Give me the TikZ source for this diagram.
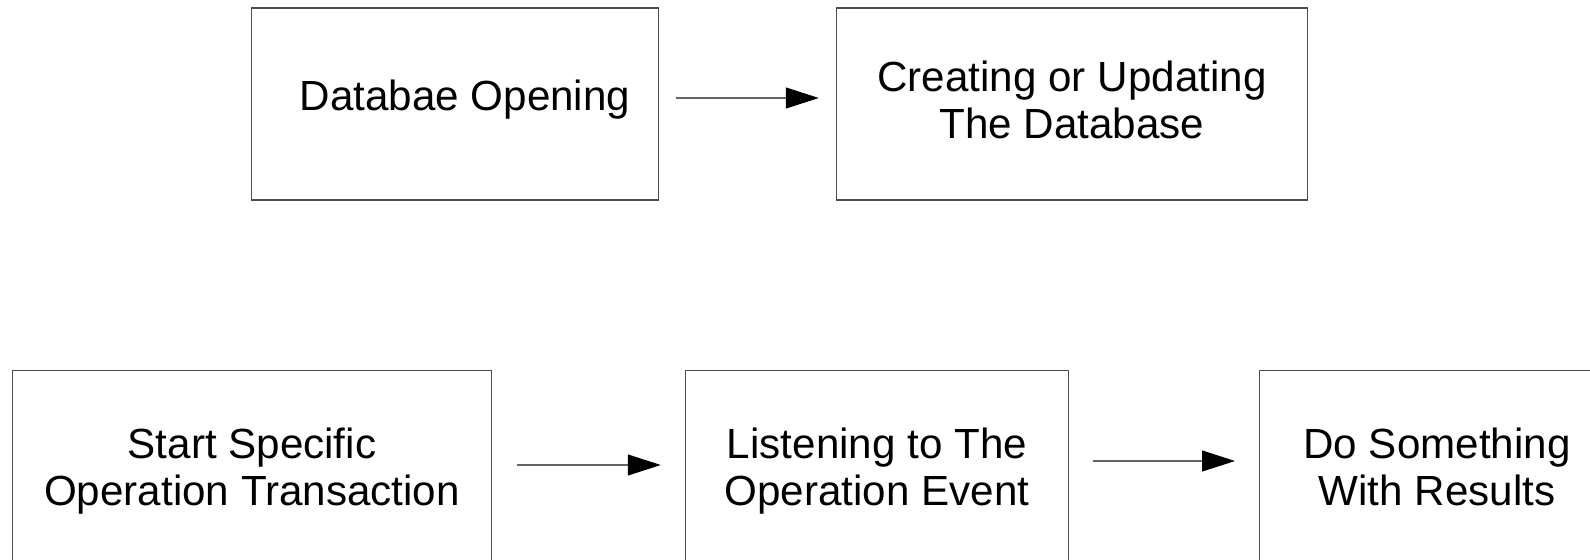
\documentclass[tikz,border=0pt]{standalone}
\usepackage{fontspec}
\setmainfont{Liberation Sans}
\usetikzlibrary{arrows.meta}

\begin{document}
\begin{tikzpicture}[x=0.02cm, y=-0.02cm,
	box_node/.style={rectangle, draw=black!70, line width=0.6pt, minimum height=3.84cm, inner sep=0pt},
	box_text/.style={align=center, inner sep=0pt, font=\fontsize{24}{26.7}\selectfont},
	flow_edge/.style={draw=black!60, line width=0.6pt, -{Triangle[length=0.66cm, width=0.42cm, black]}}]
				\useasboundingbox (0,0) rectangle (1590,560);
				\clip (0,0) rectangle (1590,560);
				% top row
				\node[box_node, minimum width=8.15cm, label={[box_text, xshift=0.2cm, yshift=0.08cm]center:Databae Opening}](open) at (455,104){};
				\node[box_node, minimum width=9.43cm, label={[box_text, yshift=0.09cm]center:Creating or Updating\\The Database}](update) at (1072,104){};
				% bottom row
				\node[box_node, minimum width=9.59cm, label={[box_text, yshift=-0.1cm]center:Start Specific\\Operation Transaction}](start) at (252,466.5){};
				\node[box_node, minimum width=7.65cm, label={[box_text, yshift=-0.1cm]center:Listening to The\\Operation Event}](listen) at (877,466.5){};
				\node[box_node, minimum width=7.1cm, label={[box_text, yshift=-0.01cm]center:Do Something\\With Results}](result) at (1437,466.5){};
				\path
				([yshift=0.12cm]open.east) edge[flow_edge, shorten <=0.34cm, shorten >=0.34cm] ([yshift=0.12cm]update.west)
				([yshift=0.03cm]start.east) edge[flow_edge, shorten <=0.49cm, shorten >=0.49cm] ([yshift=0.03cm]listen.west)
				([yshift=0.11cm]listen.east) edge[flow_edge, shorten <=0.48cm, shorten >=0.48cm] ([yshift=0.11cm]result.west);
			\end{tikzpicture}
\end{document}
